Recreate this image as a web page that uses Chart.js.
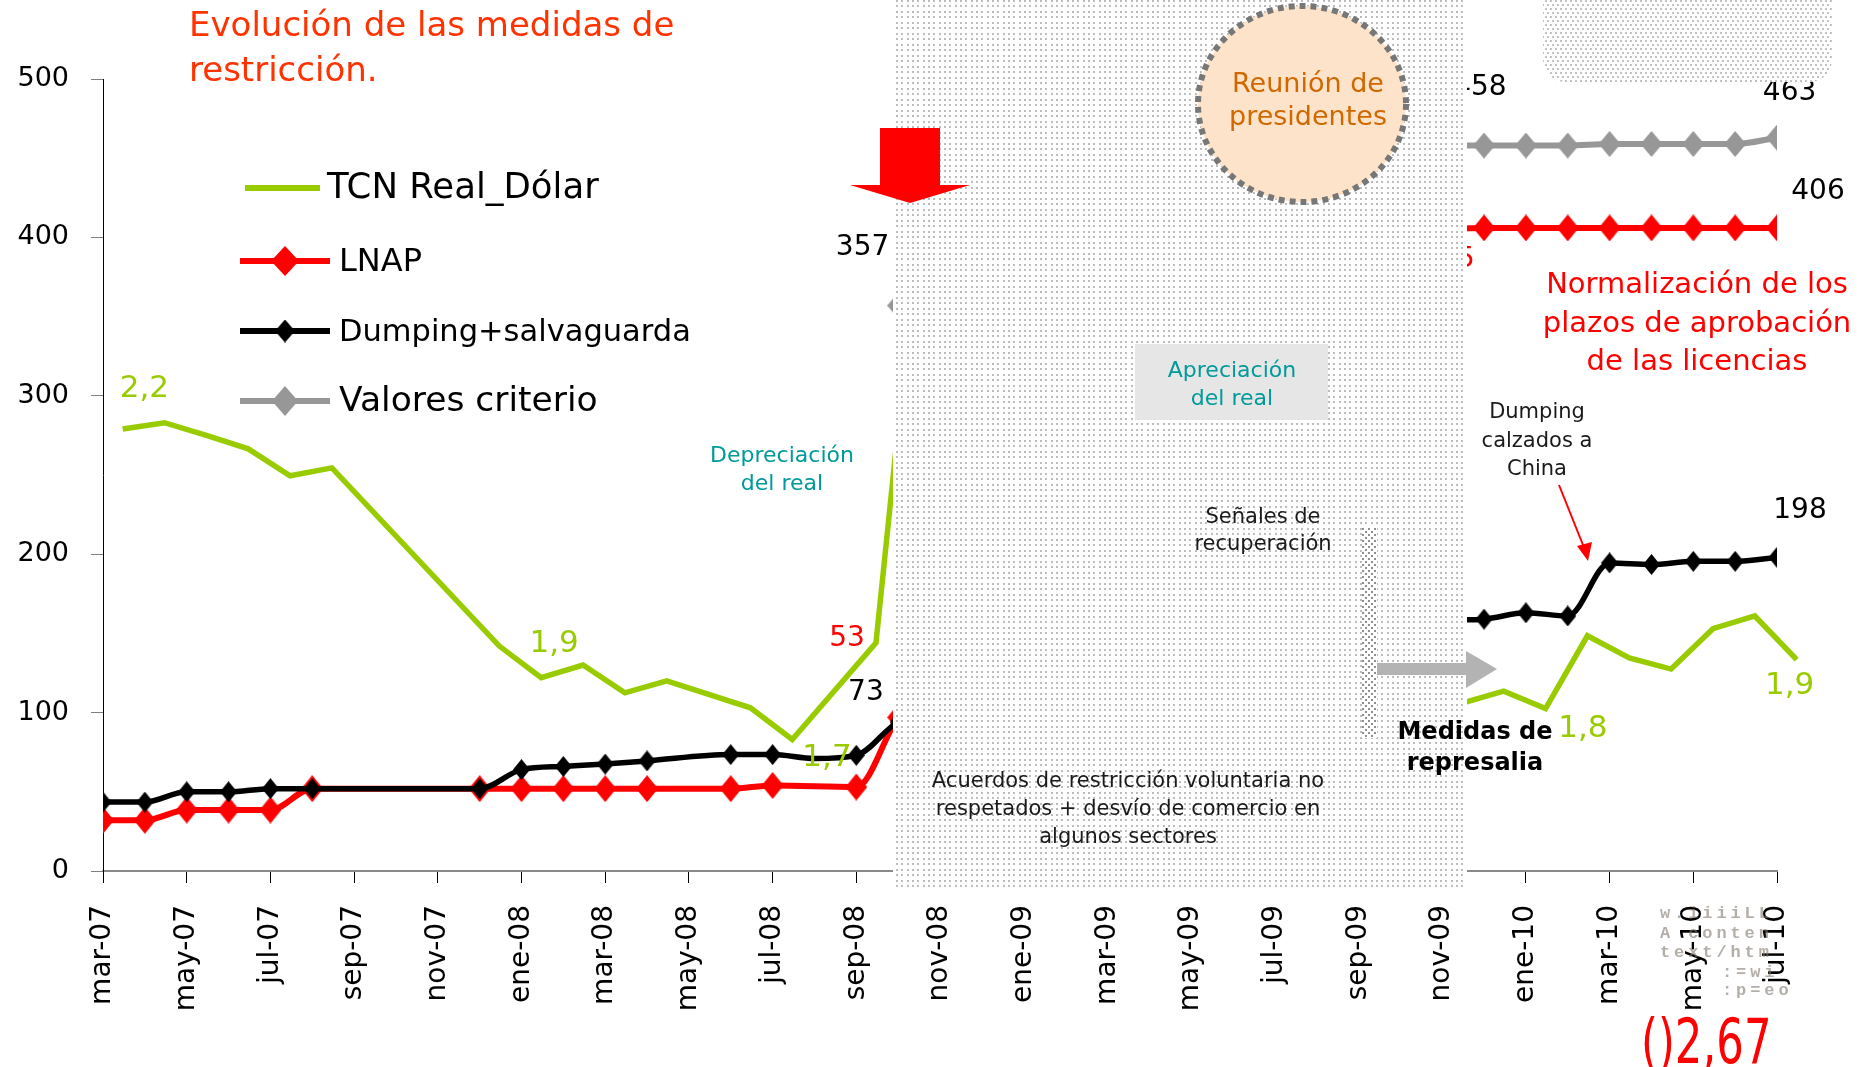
<!DOCTYPE html>
<html lang="es">
<head>
<meta charset="utf-8">
<title>Evolución de las medidas de restricción</title>
<script src="https://cdn.jsdelivr.net/npm/chart.js@4.4.1/dist/chart.umd.min.js"></script>
<style>
  html, body { margin: 0; padding: 0; background: #fff; }
  #wrap { position: relative; width: 1873px; height: 1067px; }
</style>
</head>
<body>
<div id="wrap"><canvas id="grafico" width="1873" height="1067"></canvas></div>
<script>
// meses (marzo 2007 - julio 2010)
const meses = [
  "mar-07", "abr-07", "may-07", "jun-07", "jul-07", "ago-07", "sep-07", "oct-07", "nov-07", "dic-07",
  "ene-08", "feb-08", "mar-08", "abr-08", "may-08", "jun-08", "jul-08", "ago-08", "sep-08", "oct-08", "nov-08", "dic-08",
  "ene-09", "feb-09", "mar-09", "abr-09", "may-09", "jun-09", "jul-09", "ago-09", "sep-09", "oct-09", "nov-09", "dic-09",
  "ene-10", "feb-10", "mar-10", "abr-10", "may-10", "jun-10", "jul-10"
];

// TCN Real/Dólar (escalado), puntos a mitad de mes
const tcnRealDolar = [
  279, 283, 275, 266.5, 249.5, 254.5, null, null, null, 142,
  122, 130, 112.5, 120, null, 103, 83, null, 144, 400, null, null,
  null, null, null, null, null, null, null, null, null, null, 106, 113.5,
  102.5, 148.5, 134.5, 127.5, 153, 161, 133.5
];

const lnap = [
  32, 32, 38.5, 38.5, 38.5, 52, null, null, null, 52,
  52, 52, 52, 52, null, 52, 54, null, 53, 97, null, null,
  null, null, null, null, null, null, null, null, null, null, 405, 406,
  406, 406, 406, 406, 406, 406, 406
];

const dumpingSalvaguarda = [
  43.5, 43.5, 50, 50, 52, 52, null, null, null, 52,
  64, 66, 67.5, 69.5, null, 73.5, 73.5, 71, 73, 94, null, null,
  null, null, null, null, null, null, null, null, null, null, 158, 159,
  163, 161, 194.5, 193.5, 195.5, 195.5, 198
];

const valoresCriterio = [
  null, null, null, null, null, null, null, null, null, null,
  null, null, null, null, null, null, null, null, null, 357, null, null,
  null, null, null, null, null, null, null, null, null, null, 458, 458,
  458, 458, 459, 459, 459, 459, 463
];

const desfaseTCN = 0.47; // el TCN se grafica entre marcas

// etiquetas de datos: texto, mes, valor
const etiquetas = [
  { texto: "2,2", mes: 0.99, valor: 299.5, color: "#99cc00", size: 31 },
  { texto: "1,9", mes: 10.78, valor: 138, color: "#99cc00", size: 31 },
  { texto: "53", mes: 17.78, valor: 142, color: "#ff0000", size: 28 },
  { texto: "73", mes: 18.23, valor: 108, color: "#000000", size: 28 },
  { texto: "1,7", mes: 17.3, valor: 66, color: "#99cc00", size: 31 },
  { texto: "357", mes: 18.15, valor: 389, color: "#000000", size: 28 },
  { texto: "458", mes: 32.9, valor: 490, color: "#000000", size: 28 },
  { texto: "405", mes: 32.14, valor: 381, color: "#ff0000", size: 28 },
  { texto: "463", mes: 40.3, valor: 487, color: "#000000", size: 28 },
  { texto: "406", mes: 40.98, valor: 424, color: "#000000", size: 28 },
  { texto: "198", mes: 40.55, valor: 223, color: "#000000", size: 28 },
  { texto: "1,9", mes: 40.3, valor: 111.5, color: "#99cc00", size: 31 },
  { texto: "1,8", mes: 35.36, valor: 84.4, color: "#99cc00", size: 31 }
];

const FUENTE = "'DejaVu Sans', sans-serif";
Chart.defaults.font.family = FUENTE;

function rombo(color, w, h) {
  const c = document.createElement("canvas");
  c.width = w;
  c.height = h;
  const g = c.getContext("2d");
  g.fillStyle = color;
  g.beginPath();
  g.moveTo(w / 2, 0);
  g.lineTo(w, h / 2);
  g.lineTo(w / 2, h);
  g.lineTo(0, h / 2);
  g.closePath();
  g.fill();
  return c;
}

function trama(w, h, color, puntos) {
  const c = document.createElement("canvas");
  c.width = w;
  c.height = h;
  const g = c.getContext("2d");
  g.fillStyle = color;
  puntos.forEach(([a, b]) => g.fillRect(a, b, 2, 2));
  return c;
}

function serie(valores, desfase) {
  return valores.map((v, i) => ({ x: i + desfase, y: v }));
}

function lineas(ctx, textos, x, y0, paso) {
  textos.forEach((t, i) => ctx.fillText(t, x, y0 + i * paso));
}

const verde = "#99cc00";
const rojo = "#ff0000";
const negro = "#000000";
const gris = "#979797";
const turquesa = "#009a9a";

const anotaciones = {
  id: "anotaciones",
  afterDatasetsDraw(chart) {
    const ctx = chart.ctx;
    const sx = chart.scales.x;
    const sy = chart.scales.y;
    ctx.save();

    // etiquetas de datos
    ctx.textAlign = "center";
    ctx.textBaseline = "alphabetic";
    etiquetas.forEach((e) => {
      ctx.font = e.size + "px " + FUENTE;
      ctx.fillStyle = e.color;
      ctx.fillText(e.texto, sx.getPixelForValue(e.mes), sy.getPixelForValue(e.valor));
    });

    // zona tramada central
    ctx.fillStyle = "#fff";
    ctx.fillRect(893, 0, 574, 889);
    ctx.fillStyle = ctx.createPattern(
      trama(16, 11, "#bcbcbc", [[0, 0], [5, 0], [11, 0], [0, 5], [5, 5], [11, 5]]),
      "repeat"
    );
    ctx.fillRect(893, 0, 574, 889);

    // recuadro tramado arriba a la derecha
    ctx.beginPath();
    ctx.roundRect(1543, -30, 289, 112, 22);
    ctx.fillStyle = "#fff";
    ctx.fill();
    ctx.fillStyle = ctx.createPattern(
      trama(10, 8, "#c2c2c2", [[0, 0], [5, 0], [2, 4], [7, 4]]),
      "repeat"
    );
    ctx.fill();

    // franja vertical
    ctx.fillStyle = "#fff";
    ctx.fillRect(1362, 527, 15, 211);
    ctx.fillStyle = ctx.createPattern(trama(6, 6, "#8f8f8f", [[0, 0], [3, 3]]), "repeat");
    ctx.fillRect(1362, 527, 15, 211);

    // flecha roja hacia abajo
    ctx.fillStyle = rojo;
    ctx.fillRect(880, 128, 60, 57);
    ctx.beginPath();
    ctx.moveTo(850, 185);
    ctx.lineTo(970, 185);
    ctx.lineTo(910, 203);
    ctx.closePath();
    ctx.fill();

    // círculo "Reunión de presidentes"
    ctx.beginPath();
    ctx.ellipse(1302, 104, 104, 98, 0, 0, Math.PI * 2);
    ctx.fillStyle = "#fde3c9";
    ctx.fill();
    ctx.setLineDash([6, 5]);
    ctx.lineWidth = 6;
    ctx.strokeStyle = "#777";
    ctx.stroke();
    ctx.setLineDash([]);
    ctx.fillStyle = "#d06800";
    ctx.font = "27px " + FUENTE;
    lineas(ctx, ["Reunión de", "presidentes"], 1308, 92, 33);

    // recuadro "Apreciación del real"
    ctx.fillStyle = "#e6e6e6";
    ctx.fillRect(1135, 344, 193, 76);
    ctx.fillStyle = turquesa;
    ctx.font = "22px " + FUENTE;
    lineas(ctx, ["Apreciación", "del real"], 1232, 377, 28);
    lineas(ctx, ["Depreciación", "del real"], 782, 462, 28);

    // textos negros
    ctx.fillStyle = "#1a1a1a";
    ctx.font = "21px " + FUENTE;
    lineas(ctx, ["Señales de", "recuperación"], 1263, 523, 27);
    lineas(ctx, ["Acuerdos de restricción voluntaria no", "respetados + desvío de comercio en", "algunos sectores"], 1128, 787, 28);
    lineas(ctx, ["Dumping", "calzados a", "China"], 1537, 418, 28.5);
    ctx.font = "bold 24px " + FUENTE;
    ctx.fillStyle = "#000";
    lineas(ctx, ["Medidas de", "represalia"], 1475, 739, 31);

    // flecha gris
    ctx.fillStyle = "#b3b3b3";
    ctx.fillRect(1377, 663, 90, 12);
    ctx.beginPath();
    ctx.moveTo(1466, 651);
    ctx.lineTo(1497, 669);
    ctx.lineTo(1466, 688);
    ctx.closePath();
    ctx.fill();

    // flecha roja fina
    ctx.strokeStyle = rojo;
    ctx.lineWidth = 2;
    ctx.beginPath();
    ctx.moveTo(1559, 485);
    ctx.lineTo(1585, 550);
    ctx.stroke();
    ctx.fillStyle = rojo;
    ctx.beginPath();
    ctx.moveTo(1588, 561);
    ctx.lineTo(1577, 546);
    ctx.lineTo(1592, 542);
    ctx.closePath();
    ctx.fill();

    // textos rojos
    ctx.fillStyle = rojo;
    ctx.font = "29px " + FUENTE;
    lineas(ctx, ["Normalización de los", "plazos de aprobación", "de las licencias"], 1697, 293, 38.5);

    ctx.textAlign = "left";
    ctx.fillStyle = "#ff3300";
    ctx.font = "34px " + FUENTE;
    lineas(ctx, ["Evolución de las medidas de", "restricción."], 189, 36, 45);

    // leyenda
    const filas = [188, 261, 331, 401];
    const tamLeyenda = [35.5, 32, 30.5, 34.5];
    const marcas = [null, rombo(rojo, 28, 30), rombo(negro, 20, 23), rombo(gris, 26, 30)];
    chart.data.datasets.forEach((ds, i) => {
      const yy = filas[i];
      ctx.strokeStyle = ds.borderColor;
      ctx.lineWidth = 6;
      ctx.beginPath();
      ctx.moveTo(i === 0 ? 245 : 240, yy);
      ctx.lineTo(i === 0 ? 320 : 330, yy);
      ctx.stroke();
      if (marcas[i]) ctx.drawImage(marcas[i], 285 - marcas[i].width / 2, yy - marcas[i].height / 2);
      ctx.fillStyle = "#000";
      ctx.font = tamLeyenda[i] + "px " + FUENTE;
      ctx.fillText(ds.label, i === 0 ? 327 : 339, yy + 10);
    });

    // restos de marca de agua
    ctx.fillStyle = "rgba(130,120,110,0.6)";
    ctx.font = "bold 17px 'Liberation Mono', monospace";
    const agua = [["w.iiiiLL", 1660, 918], ["A conten", 1660, 938], ["text/htm", 1660, 957], [":=wi", 1722, 977], [":p=eo", 1722, 995]];
    agua.forEach(([t, x0, y0]) => {
      for (let k = 0; k < t.length; k++) ctx.fillText(t[k], x0 + k * 14.1, y0);
    });
    ctx.save();
    ctx.translate(1641, 1063);
    ctx.scale(0.7, 1);
    ctx.fillStyle = rojo;
    ctx.font = "62px " + FUENTE;
    ctx.fillText("()2,67", 0, 0);
    ctx.restore();

    ctx.restore();
  }
};

new Chart(document.getElementById("grafico"), {
  type: "line",
  data: {
    datasets: [
      {
        label: "TCN Real_Dólar",
        data: serie(tcnRealDolar, desfaseTCN),
        borderColor: verde,
        borderWidth: 5.5,
        pointRadius: 0,
        tension: 0,
        spanGaps: true,
        clip: false,
        order: 4
      },
      {
        label: "LNAP",
        data: serie(lnap, 0),
        borderColor: rojo,
        borderWidth: 6,
        pointStyle: rombo(rojo, 22, 27),
        pointRadius: 6,
        cubicInterpolationMode: "monotone",
        spanGaps: true,
        order: 3
      },
      {
        label: "Dumping+salvaguarda",
        data: serie(dumpingSalvaguarda, 0),
        borderColor: negro,
        borderWidth: 5.5,
        pointStyle: rombo(negro, 17, 21),
        pointRadius: (c) => (c.dataIndex === 17 ? 0 : 6),
        cubicInterpolationMode: "monotone",
        spanGaps: true,
        order: 2
      },
      {
        label: "Valores criterio",
        data: serie(valoresCriterio, 0),
        borderColor: gris,
        borderWidth: 6,
        pointStyle: rombo(gris, 22, 26),
        pointRadius: 6,
        cubicInterpolationMode: "monotone",
        spanGaps: true,
        order: 1
      }
    ]
  },
  options: {
    responsive: false,
    animation: false,
    events: [],
    layout: { padding: { left: 0, right: 96, top: 79, bottom: 0 } },
    scales: {
      x: {
        type: "linear",
        min: 0,
        max: 40,
        afterFit: (s) => { s.height = 196; },
        ticks: {
          stepSize: 2,
          autoSkip: false,
          minRotation: 90,
          maxRotation: 90,
          padding: 22,
          color: "#000",
          font: { size: 28 },
          callback: (v) => meses[v]
        },
        grid: { drawOnChartArea: false, tickLength: 12, tickColor: "#000", tickWidth: 1 },
        border: { color: "#8a8a8a", width: 2 }
      },
      y: {
        min: 0,
        max: 500,
        afterFit: (s) => { s.width = 103; },
        ticks: { stepSize: 100, padding: 22, color: "#000", font: { size: 27 } },
        grid: { drawOnChartArea: false, tickLength: 12, tickColor: "#808080" },
        border: { color: "#000", width: 1 }
      }
    },
    plugins: {
      legend: { display: false },
      tooltip: { enabled: false }
    }
  },
  plugins: [anotaciones]
});
</script>
</body>
</html>
